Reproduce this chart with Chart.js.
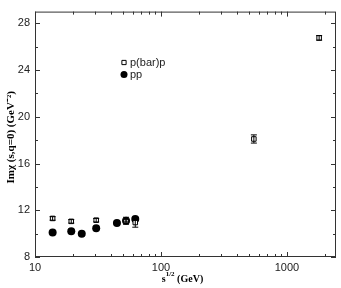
<!DOCTYPE html>
<html>
<head>
<meta charset="utf-8">
<script src="https://cdn.jsdelivr.net/npm/chart.js@4/dist/chart.umd.min.js"></script>
<style>
  html, body { margin: 0; padding: 0; background: #fff; }
  #wrap { width: 341px; height: 288px; position: relative; }
</style>
</head>
<body>
<div id="wrap"><canvas id="c"></canvas></div>
<script>
// sqrt(s) in GeV and Im chi(s, q=0) in GeV^-2
const ppEnergy = [13.8, 19.4, 23.5, 30.6, 44.7, 52.8, 62.5];
const ppValue = [10.1, 10.2, 10.0, 10.45, 10.9, 11.1, 11.25];
const ppError = [0.08, 0.08, 0.08, 0.08, 0.08, 0.1, 0.1];

const pbarEnergy = [13.8, 19.4, 30.6, 52.8, 62.5, 546, 1800];
const pbarValue = [11.3, 11.05, 11.15, 11.1, 10.95, 18.1, 26.75];
const pbarError = [0.15, 0.15, 0.15, 0.3, 0.4, 0.35, 0.2];

const xTickValues = [10, 100, 1000];
const yTickValues = [8, 12, 16, 20, 24, 28];
const yMinorValues = [10, 14, 18, 22, 26];

const AXIS = '#333';

function toPoints(xs, ys, es) {
    return xs.map((x, i) => ({ x, y: ys[i], err: es[i] }));
}

// error bars, drawn from each point's err through the scales
const errorBars = {
    id: 'errorBars',
    afterDatasetsDraw(chart) {
        const { ctx, scales } = chart;
        ctx.save();
        ctx.strokeStyle = '#000';
        ctx.lineWidth = 1;
        chart.data.datasets.forEach((ds) => {
            ds.data.forEach((p) => {
                const px = scales.x.getPixelForValue(p.x);
                const top = scales.y.getPixelForValue(p.y + p.err);
                const bot = scales.y.getPixelForValue(p.y - p.err);
                ctx.beginPath();
                ctx.moveTo(px, top);
                ctx.lineTo(px, bot);
                ctx.moveTo(px - 3, top);
                ctx.lineTo(px + 3, top);
                ctx.moveTo(px - 3, bot);
                ctx.lineTo(px + 3, bot);
                ctx.stroke();
            });
        });
        ctx.restore();
    },
};

// frame with inward ticks on all four sides, legend and axis titles
const frame = {
    id: 'frame',
    afterDraw(chart) {
        const { ctx, chartArea: a, scales } = chart;
        ctx.save();
        ctx.strokeStyle = AXIS;
        ctx.lineWidth = 1;
        ctx.strokeRect(a.left + 0.5, a.top + 0.5, a.right - a.left - 1, a.bottom - a.top - 1);

        ctx.beginPath();
        const xMinor = [];
        [10, 100, 1000].forEach((d) => {
            for (let k = 2; k <= 9; k++) xMinor.push(d * k);
        });
        xMinor.concat(xTickValues).forEach((v) => {
            if (v > scales.x.max) return;
            const len = xTickValues.includes(v) ? 5 : 3;
            const px = Math.round(scales.x.getPixelForValue(v)) + 0.5;
            ctx.moveTo(px, a.bottom);
            ctx.lineTo(px, a.bottom - len);
            ctx.moveTo(px, a.top);
            ctx.lineTo(px, a.top + len);
        });
        yTickValues.concat(yMinorValues).forEach((v) => {
            const len = yTickValues.includes(v) ? 5 : 3;
            const py = Math.round(scales.y.getPixelForValue(v)) + 0.5;
            ctx.moveTo(a.left, py);
            ctx.lineTo(a.left + len, py);
            ctx.moveTo(a.right, py);
            ctx.lineTo(a.right - len, py);
        });
        ctx.stroke();

        // legend
        const lx = 124, ly = 62.5;
        chart.data.datasets.forEach((ds, i) => {
            const y = ly + i * 12;
            ctx.fillStyle = ds.backgroundColor;
            ctx.strokeStyle = ds.borderColor;
            ctx.lineWidth = 1;
            Chart.helpers.drawPoint(ctx, {
                pointStyle: ds.pointStyle,
                radius: ds.pointStyle === 'rect' ? 3 : 3.5,
                borderWidth: ds.pointBorderWidth,
            }, lx, y);
            ctx.fillStyle = '#222';
            ctx.font = '11px "Liberation Sans", Arial, sans-serif';
            ctx.textBaseline = 'middle';
            ctx.textAlign = 'left';
            ctx.fillText(ds.label, lx + 6, y);
        });

        // axis titles
        ctx.fillStyle = '#000';
        ctx.font = 'bold 11px "Liberation Serif", "Times New Roman", serif';
        ctx.textAlign = 'center';
        ctx.textBaseline = 'middle';
        ctx.save();
        ctx.translate(11, (a.top + a.bottom) / 2 + 3);
        ctx.rotate(-Math.PI / 2);
        ctx.fillText('Imχ (s,q=0) (GeV⁻²)', 0, 0);
        ctx.restore();

        const tx = (a.left + a.right) / 2 - 3;
        const ty = 279;
        ctx.textAlign = 'left';
        ctx.font = 'bold 10px "Liberation Serif", serif';
        const w1 = ctx.measureText('s').width;
        ctx.font = 'bold 7px "Liberation Serif", serif';
        const w2 = ctx.measureText('1/2').width;
        ctx.font = 'bold 10px "Liberation Serif", serif';
        const w3 = ctx.measureText(' (GeV)').width;
        const x0 = tx - (w1 + w2 + w3) / 2;
        ctx.fillText('s', x0, ty);
        ctx.font = 'bold 7px "Liberation Serif", serif';
        ctx.fillText('1/2', x0 + w1, ty - 5);
        ctx.font = 'bold 10px "Liberation Serif", serif';
        ctx.fillText(' (GeV)', x0 + w1 + w2, ty);
        ctx.restore();
    },
};

new Chart(document.getElementById('c'), {
    type: 'scatter',
    data: {
        datasets: [
            {
                label: 'p(bar)p',
                data: toPoints(pbarEnergy, pbarValue, pbarError),
                pointStyle: 'rect',
                pointRadius: 3.2,
                pointBorderWidth: 1,
                borderColor: '#000',
                backgroundColor: '#fff',
            },
            {
                label: 'pp',
                data: toPoints(ppEnergy, ppValue, ppError),
                pointStyle: 'circle',
                pointRadius: 4,
                pointBorderWidth: 0,
                borderColor: '#000',
                backgroundColor: '#000',
            },
        ],
    },
    options: {
        responsive: true,
        maintainAspectRatio: false,
        animation: false,
        layout: { padding: { left: 0, right: 5, top: 7, bottom: 0 } },
        plugins: {
            legend: { display: false },
            tooltip: { enabled: false },
        },
        scales: {
            x: {
                type: 'logarithmic',
                min: 10,
                max: 2450,
                afterBuildTicks: (s) => { s.ticks = xTickValues.map((v) => ({ value: v })); },
                afterFit: (s) => { s.height = 31; },
                ticks: {
                    color: '#222',
                    padding: 4,
                    maxRotation: 0,
                    font: { family: '"Liberation Sans", Arial, sans-serif', size: 11 },
                    callback: (v) => String(v),
                },
                grid: { display: false, drawTicks: false },
                border: { display: false },
            },
            y: {
                min: 8,
                max: 29,
                afterBuildTicks: (s) => { s.ticks = yTickValues.map((v) => ({ value: v })); },
                afterFit: (s) => { s.width = 35; },
                ticks: {
                    color: '#222',
                    padding: 5,
                    font: { family: '"Liberation Sans", Arial, sans-serif', size: 11 },
                },
                grid: { display: false, drawTicks: false },
                border: { display: false },
            },
        },
    },
    plugins: [errorBars, frame],
});
</script>
</body>
</html>
